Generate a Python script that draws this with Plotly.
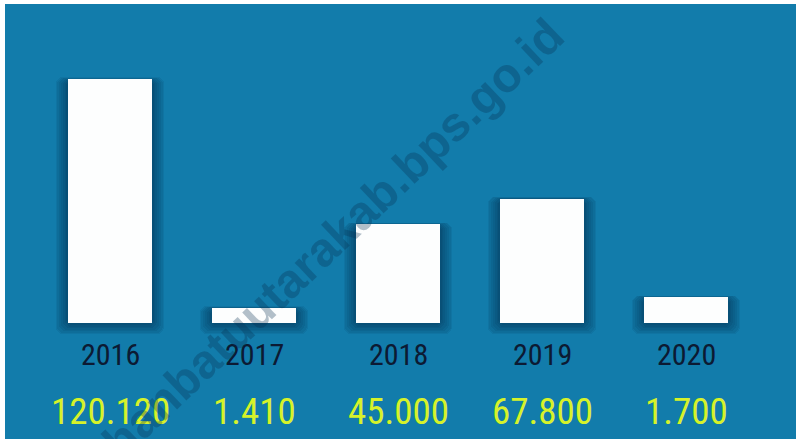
import plotly.graph_objects as go

# ---- data ----
years = ["2016", "2017", "2018", "2019", "2020"]
value_labels = ["120.120", "1.410", "45.000", "67.800", "1.700"]
# bar heights as drawn in the infographic (relative, not to scale of the values)
bar_heights = [100, 6.2, 40.5, 51, 10.6]

BLUE = "#127cab"
YEAR_COLOR = "#0c1a33"
VALUE_COLOR = "#d6f22a"
FONT = "Liberation Sans Narrow, Roboto Condensed, DejaVu Sans Condensed, sans-serif"

W, H = 796, 439
L, R, T, B = 38, 38, 20, 99
px_per_unit = 2.44
plot_h = H - T - B
y_min = -(H - B - 323) / px_per_unit
y_max = y_min + plot_h / px_per_unit
unit_x_px = (W - L - R) / 5.0

x = list(range(len(years)))
bar_w = 0.58

fig = go.Figure()

# soft shadow layers
for k in range(7, 0, -1):
    grow = k * 1.8
    fig.add_trace(go.Bar(
        x=x, y=[h + grow / px_per_unit for h in bar_heights],
        base=[-(grow * 0.8 + 1) / px_per_unit] * len(x),
        width=bar_w + 2 * grow / unit_x_px,
        marker=dict(color="rgba(0,25,55,0.075)", line=dict(width=0), cornerradius=7),
        hoverinfo="skip", showlegend=False,
    ))

fig.add_trace(go.Bar(
    x=x, y=bar_heights, width=bar_w,
    marker=dict(color="#fdfefe", line=dict(width=0), cornerradius=3),
    hoverinfo="skip", showlegend=False,
))

for i, (yr, val) in enumerate(zip(years, value_labels)):
    fig.add_annotation(x=i, y=0, xref="x", yref="y", text=yr, showarrow=False,
                       yanchor="middle", yshift=-31,
                       font=dict(family=FONT, size=30, color=YEAR_COLOR))
    fig.add_annotation(x=i, y=0, xref="x", yref="y", text=val, showarrow=False,
                       yanchor="middle", yshift=-88,
                       font=dict(family=FONT, size=37, color=VALUE_COLOR))

# watermark
fig.add_annotation(
    x=(297 - L) / (W - L - R), y=1 - (272 - T) / plot_h, xref="paper", yref="paper",
    text="<b>labuhanbatuutarakab.bps.go.id</b>", showarrow=False, textangle=-43.5,
    xanchor="center", yanchor="middle",
    font=dict(family="Liberation Sans, Arial, sans-serif", size=48, color="rgba(5,45,80,0.30)"),
)

# blue panel with white strip on top/left
fig.add_shape(type="rect", xref="paper", yref="paper",
              x0=(5 - L) / (W - L - R), x1=1 + (R + 10) / (W - L - R),
              y0=-(B + 10) / plot_h, y1=1 + (T - 4) / plot_h,
              fillcolor=BLUE, line=dict(width=0), layer="below")

fig.update_layout(
    width=W, height=H,
    margin=dict(l=L, r=R, t=T, b=B),
    paper_bgcolor="white", plot_bgcolor="rgba(0,0,0,0)",
    barmode="overlay", bargap=0,
    xaxis=dict(range=[-0.5, 4.5], visible=False, fixedrange=True),
    yaxis=dict(range=[y_min, y_max], visible=False, fixedrange=True),
    showlegend=False,
)

fig.write_html("out.html", config={"displayModeBar": False},
               post_script="document.body.style.margin='0';")
